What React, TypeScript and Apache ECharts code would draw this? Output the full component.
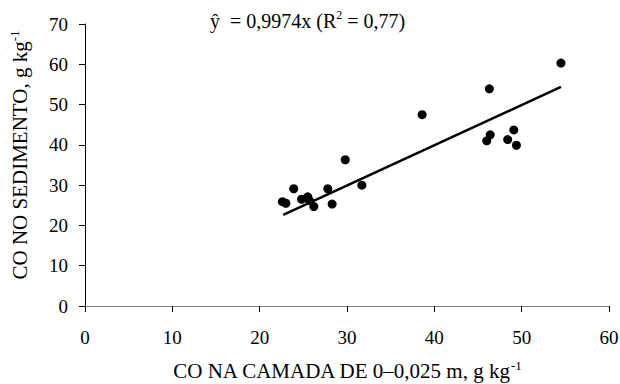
import React, { useEffect, useRef } from "react";
import * as echarts from "echarts";

const pointsX = [22.6, 23.0, 23.9, 24.8, 25.5, 25.7, 26.2, 27.8, 28.3, 29.8, 31.7, 38.6, 46.0, 46.4, 46.3, 48.4, 49.1, 49.4, 54.5];
const pointsY = [25.9, 25.5, 29.1, 26.5, 27.1, 26.2, 24.7, 29.1, 25.3, 36.3, 30.0, 47.5, 41.0, 42.5, 53.9, 41.3, 43.7, 39.9, 60.3];
const fitX = [22.7, 54.5];
const fitY = [22.6, 54.4];
const xTicks = { min: 0, max: 60, interval: 10 };
const yTicks = { min: 0, max: 70, interval: 10 };

const FONT = "'Liberation Serif', 'Times New Roman', serif";

export default function App() {
  const ref = useRef<HTMLDivElement>(null);
  useEffect(() => {
    if (!ref.current) return;
    const chart = echarts.init(ref.current, null, { renderer: "svg" });
    const sup = { fontSize: 13, verticalAlign: "top", fontFamily: FONT, color: "#000" };
    chart.setOption({
      animation: false,
      backgroundColor: "#fff",
      grid: { left: 85, right: 11, top: 24, bottom: 78, outerBoundsMode: "none", containLabel: false },
      xAxis: {
        type: "value",
        min: xTicks.min,
        max: xTicks.max,
        interval: xTicks.interval,
        splitLine: { show: false },
        axisLine: { show: true, onZero: false, lineStyle: { color: "#808080", width: 1 } },
        axisTick: { show: true, inside: false, length: 6, lineStyle: { color: "#000" } },
        axisLabel: { fontFamily: FONT, fontSize: 19, color: "#000", margin: 22 },
        name: "CO NA CAMADA DE 0\u20130,025 m, g kg{sup|-1}",
        nameLocation: "middle",
        nameGap: 53,
        nameTextStyle: { fontFamily: FONT, fontSize: 21, color: "#000", lineHeight: 24, rich: { sup } },
      },
      yAxis: {
        type: "value",
        min: yTicks.min,
        max: yTicks.max,
        interval: yTicks.interval,
        splitLine: { show: false },
        axisLine: { show: true, onZero: false, lineStyle: { color: "#000", width: 1 } },
        axisTick: { show: true, inside: false, length: 6, lineStyle: { color: "#000" } },
        axisLabel: { fontFamily: FONT, fontSize: 19, color: "#000", margin: 17 },
        name: "CO NO SEDIMENTO, g kg{sup|-1}",
        nameLocation: "middle",
        nameRotate: 90,
        nameGap: 53,
        nameTextStyle: { fontFamily: FONT, fontSize: 21, color: "#000", lineHeight: 24, padding: [0, 0, 0, 20], rich: { sup } },
      },
      graphic: [
        {
          type: "text",
          left: 210,
          top: 9,
          style: {
            text: "\u0177  = 0,9974x (R{sup|2} = 0,77)",
            fontFamily: FONT,
            fontSize: 20,
            lineHeight: 24,
            fill: "#000",
            rich: { sup: { fontSize: 12, verticalAlign: "top", fontFamily: FONT } },
          },
        },
      ],
      series: [
        {
          type: "scatter",
          data: pointsX.map((x, i) => [x, pointsY[i]]),
          symbol: "circle",
          symbolSize: 9,
          itemStyle: { color: "#000", opacity: 1 },
          z: 3,
        },
        {
          type: "line",
          data: fitX.map((x, i) => [x, fitY[i]]),
          symbol: "none",
          lineStyle: { color: "#000", width: 2.5 },
          z: 2,
        },
      ],
    });
    return () => chart.dispose();
  }, []);
  return <div ref={ref} style={{ width: 620, height: 384, position: "absolute", left: 0, top: 0 }} />;
}
